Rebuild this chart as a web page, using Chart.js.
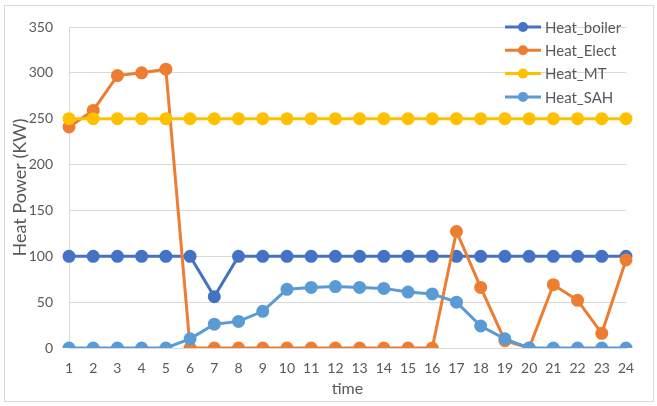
<!DOCTYPE html>
<html>
<head>
<meta charset="utf-8">
<script src="https://cdn.jsdelivr.net/npm/chart.js@4/dist/chart.umd.min.js"></script>
<style>
  html, body { margin: 0; padding: 0; background: #fff; }
  #box { width: 657px; height: 406px; position: relative; }
</style>
</head>
<body>
<div id="box"><canvas id="heat-chart"></canvas></div>
<script>
// ── data ──────────────────────────────────────────────────────────────────────
const hours      = ['1','2','3','4','5','6','7','8','9','10','11','12','13','14','15','16','17','18','19','20','21','22','23','24'];
const heatBoiler = [100, 100, 100, 100, 100, 100, 56, 100, 100, 100, 100, 100, 100, 100, 100, 100, 100, 100, 100, 100, 100, 100, 100, 100];
const heatElect  = [241, 259, 297, 300, 304, 0, 0, 0, 0, 0, 0, 0, 0, 0, 0, 0, 127, 66, 8, 0, 69, 52, 16, 96];
const heatMT     = [250, 250, 250, 250, 250, 250, 250, 250, 250, 250, 250, 250, 250, 250, 250, 250, 250, 250, 250, 250, 250, 250, 250, 250];
const heatSAH    = [0, 0, 0, 0, 0, 10, 26, 29, 40, 64, 66, 67, 66, 65, 61, 59, 50, 24, 10, 0, 0, 0, 0, 0];
const yTicks     = [0, 50, 100, 150, 200, 250, 300, 350];

const FONT = 'Lato, "Open Sans", sans-serif';
const TXT  = '#595959';
const GRID = '#D9D9D9';

Chart.defaults.font.family = FONT;
Chart.defaults.color = TXT;

// series helper — Excel style line with round markers
const series = (label, data, color, order) => ({
  label, data, order,
  borderColor: color,
  backgroundColor: color,
  pointBackgroundColor: color,
  pointBorderColor: color,
  borderWidth: 3,
  pointRadius: 5,
  pointHoverRadius: 5,
  tension: 0,
  fill: false,
});

// ── frame + legend drawn over the plot, the way Excel places it ───────────────
const framePlugin = {
  id: 'frame',
  beforeDraw(chart) {
    const c = chart.ctx;
    c.save();
    c.fillStyle = '#fff';
    c.fillRect(0, 0, chart.width, chart.height);
    c.strokeStyle = GRID;
    c.lineWidth = 1;
    c.strokeRect(4.5, 5.5, 649, 396);
    c.restore();
  },
  afterDraw(chart) {
    const c = chart.ctx;
    c.save();
    c.font = `15px ${FONT}`;
    c.textBaseline = 'middle';
    chart.data.datasets.forEach((ds, i) => {
      const y = 27 + i * 23.3;
      c.strokeStyle = ds.borderColor;
      c.lineWidth = 3;
      c.beginPath();
      c.moveTo(505, y);
      c.lineTo(541, y);
      c.stroke();
      c.fillStyle = ds.borderColor;
      c.beginPath();
      c.arc(523, y, 5, 0, Math.PI * 2);
      c.fill();
      c.fillStyle = TXT;
      c.fillText(ds.label, 545, y + 1);
    });
    c.restore();
  }
};

new Chart(document.getElementById('heat-chart'), {
  type: 'line',
  data: {
    labels: hours,
    datasets: [
      series('Heat_boiler', heatBoiler, '#4472C4', 4),
      series('Heat_Elect',  heatElect,  '#ED7D31', 3),
      series('Heat_MT',     heatMT,     '#FFC000', 2),
      series('Heat_SAH',    heatSAH,    '#5B9BD5', 1),
    ]
  },
  options: {
    responsive: true,
    maintainAspectRatio: false,
    animation: false,
    layout: { padding: { left: 6, right: 31, top: 27, bottom: 0 } },
    plugins: {
      legend: { display: false },
      tooltip: { enabled: false },
    },
    scales: {
      x: {
        offset: false,
        grid: { display: false, drawTicks: false },
        border: { display: true, color: GRID, width: 1 },
        ticks: { color: TXT, font: { size: 14 }, padding: 12, maxRotation: 0, autoSkip: false },
        title: { display: true, text: 'time', color: TXT, font: { size: 16 }, padding: { top: 0, bottom: 8 } },
        afterFit: s => { s.height = 58; },
      },
      y: {
        min: 0,
        max: 350,
        afterBuildTicks: s => { s.ticks = yTicks.map(v => ({ value: v })); },
        grid: { color: GRID, drawTicks: false, lineWidth: 1 },
        border: { display: true, color: GRID, width: 1 },
        ticks: { color: TXT, font: { size: 14 }, padding: 16 },
        title: { display: true, text: 'Heat Power (KW)', color: TXT, font: { size: 18 }, padding: { top: 3, bottom: 0 } },
        afterFit: s => { s.width = 63; },
      }
    }
  },
  plugins: [framePlugin]
});
</script>
</body>
</html>
